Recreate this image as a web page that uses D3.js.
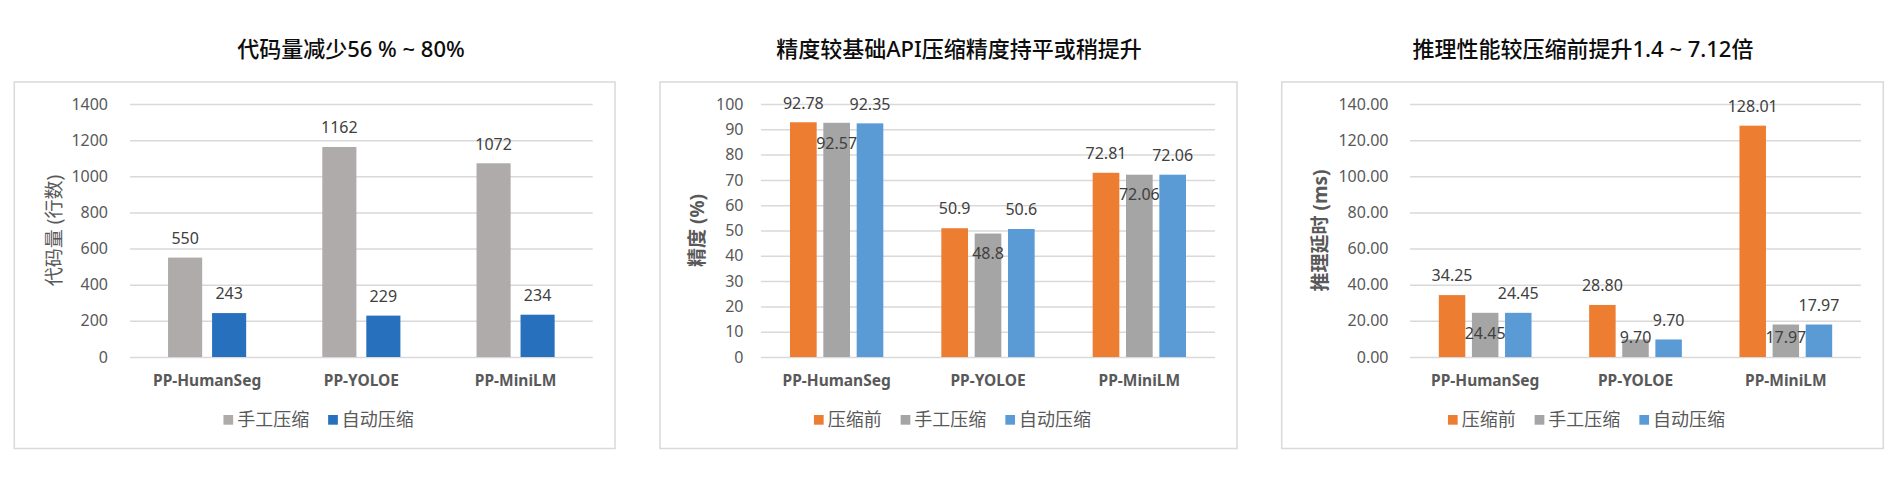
<!DOCTYPE html>
<html>
<head>
<meta charset="utf-8">
<script src="https://cdn.jsdelivr.net/npm/d3@7"></script>
<style>
  html, body { margin: 0; padding: 0; background: #fff; }
  svg { display: block; }
  text { font-family: "Noto Sans", "Noto Sans CJK SC", sans-serif; }
</style>
</head>
<body>
<svg id="chart" width="1901" height="477"></svg>
<script>
// ---------------- data ----------------
const categories = ["PP-HumanSeg", "PP-YOLOE", "PP-MiniLM"];

const codeTitle = "代码量减少56 % ~ 80%";
const codeYTitle = "代码量 (行数)";
const codeSeriesNames = ["手工压缩", "自动压缩"];
const codeManual = [550, 1162, 1072];
const codeAuto = [243, 229, 234];
const codeTicks = [0, 200, 400, 600, 800, 1000, 1200, 1400];

const accTitle = "精度较基础API压缩精度持平或稍提升";
const accYTitle = "精度 (%)";
const accSeriesNames = ["压缩前", "手工压缩", "自动压缩"];
const accBefore = [92.78, 50.9, 72.81];
const accManual = [92.57, 48.8, 72.06];
const accAuto = [92.35, 50.6, 72.06];
const accTicks = [0, 10, 20, 30, 40, 50, 60, 70, 80, 90, 100];

const latTitle = "推理性能较压缩前提升1.4 ~ 7.12倍";
const latYTitle = "推理延时 (ms)";
const latSeriesNames = ["压缩前", "手工压缩", "自动压缩"];
const latBefore = [34.25, 28.80, 128.01];
const latManual = [24.45, 9.70, 17.97];
const latAuto = [24.45, 9.70, 17.97];
const latTicks = [0, 20, 40, 60, 80, 100, 120, 140];

// ---------------- styles / layout ----------------
const COLORS2 = ["#AFABAB", "#2770BE"];
const COLORS3 = ["#ED7D31", "#A5A5A5", "#5B9BD5"];

const panels = [
  {
    title: codeTitle, yTitle: codeYTitle, names: codeSeriesNames,
    series: [codeManual, codeAuto], ticks: codeTicks, colors: COLORS2,
    tickFmt: d3.format("d"), valFmt: d3.format("d"),
    box: [14.3, 82, 615, 448.5], plot: [130, 104, 592.7, 357],
    titleX: 351, tickGap: 22, yTitleX: 54, yTitleBold: false,
    padInner: 0.225, padOuter: 0.865, insideSeries: -1
  },
  {
    title: accTitle, yTitle: accYTitle, names: accSeriesNames,
    series: [accBefore, accManual, accAuto], ticks: accTicks, colors: COLORS3,
    tickFmt: d3.format("d"), valFmt: v => String(v),
    box: [660, 82, 1237, 448.5], plot: [761, 104, 1215, 357],
    titleX: 959, tickGap: 17.5, yTitleX: 697.5, yTitleBold: true,
    padInner: 0.2, padOuter: 0.87, insideSeries: 1
  },
  {
    title: latTitle, yTitle: latYTitle, names: latSeriesNames,
    series: [latBefore, latManual, latAuto], ticks: latTicks, colors: COLORS3,
    tickFmt: d3.format(".2f"), valFmt: d3.format(".2f"),
    box: [1281.7, 82, 1883.3, 448.5], plot: [1410, 104, 1861, 357],
    titleX: 1583, tickGap: 21.5, yTitleX: 1320.5, yTitleBold: true,
    padInner: 0.2, padOuter: 0.87, insideSeries: 1
  }
];

const svg = d3.select("#chart");
svg.append("rect").attr("width", 1901).attr("height", 477).attr("fill", "#fff");

panels.forEach(p => {
  const [bx0, by0, bx1, by1] = p.box;
  const [px0, py0, px1, py1] = p.plot;
  const g = svg.append("g");

  // border
  g.append("rect")
    .attr("x", bx0).attr("y", by0)
    .attr("width", bx1 - bx0).attr("height", by1 - by0)
    .attr("fill", "#fff").attr("stroke", "#d9d9d9").attr("stroke-width", 1.5);

  // title
  g.append("text")
    .attr("x", p.titleX).attr("y", 49).attr("dy", "0.36em")
    .attr("text-anchor", "middle")
    .attr("font-size", 22).attr("font-weight", 500).attr("fill", "#0d0d0d")
    .text(p.title);

  // scales
  const y = d3.scaleLinear()
    .domain([p.ticks[0], p.ticks[p.ticks.length - 1]])
    .range([py1, py0]);
  const x0 = d3.scaleBand().domain(categories).range([px0, px1]).padding(0);
  const seriesIdx = p.series.map((_, i) => i);
  const x1 = d3.scaleBand().domain(seriesIdx)
    .range([0, x0.bandwidth()])
    .paddingInner(p.padInner).paddingOuter(p.padOuter);

  // y axis with gridlines
  const yAxis = d3.axisLeft(y)
    .tickValues(p.ticks)
    .tickFormat(p.tickFmt)
    .tickSizeInner(-(px1 - px0))
    .tickSizeOuter(0)
    .tickPadding(p.tickGap);
  const ya = g.append("g").attr("transform", `translate(${px0},0)`).call(yAxis);
  ya.select(".domain").remove();
  ya.selectAll(".tick line").attr("stroke", "#d9d9d9").attr("stroke-width", 1.5);
  ya.selectAll(".tick text")
    .attr("font-size", 16).attr("fill", "#595959")
    .attr("font-family", "'Noto Sans', sans-serif");

  // y axis title
  g.append("text")
    .attr("transform", `translate(${p.yTitleX},${(py0 + py1) / 2}) rotate(-90)`)
    .attr("text-anchor", "middle").attr("dy", "0.36em")
    .attr("font-size", 19)
    .attr("font-weight", p.yTitleBold ? "bold" : "normal")
    .attr("fill", "#595959")
    .text(p.yTitle);

  // bars
  const bars = [];
  p.series.forEach((vals, si) => {
    vals.forEach((v, ci) => {
      bars.push({ si, ci, v });
    });
  });
  g.append("g").selectAll("rect").data(bars).join("rect")
    .attr("x", d => x0(categories[d.ci]) + x1(d.si))
    .attr("width", x1.bandwidth())
    .attr("y", d => y(d.v))
    .attr("height", d => y(0) - y(d.v))
    .attr("fill", d => p.colors[d.si]);

  // value labels
  g.append("g").selectAll("text").data(bars).join("text")
    .attr("x", d => x0(categories[d.ci]) + x1(d.si) + x1.bandwidth() / 2)
    .attr("y", d => {
      if (d.si === p.insideSeries) {
        return Math.min(y(d.v) + 20, y(0) - 19.3);
      }
      return y(d.v) - 19.5;
    })
    .attr("dy", "0.36em")
    .attr("text-anchor", "middle")
    .attr("font-size", 16).attr("fill", "#404040")
    .text(d => p.valFmt(d.v));

  // category axis
  const xAxis = d3.axisBottom(x0).tickSize(0).tickPadding(0);
  const xa = g.append("g").attr("transform", `translate(0,${py1})`).call(xAxis);
  xa.select(".domain").remove();
  xa.selectAll(".tick text")
    .attr("y", 380 - py1).attr("dy", "0.36em")
    .attr("font-size", 15.5).attr("font-weight", "bold")
    .attr("fill", "#595959")
    .attr("font-family", "'Noto Sans', sans-serif");

  // legend
  const leg = g.append("g");
  let cx = 0;
  p.names.forEach((name, i) => {
    const it = leg.append("g");
    it.append("rect").attr("x", 0).attr("y", 415).attr("width", 9.7).attr("height", 9.7)
      .attr("fill", p.colors[i]);
    const t = it.append("text").attr("x", 13.7).attr("y", 420).attr("dy", "0.36em")
      .attr("font-size", 18).attr("fill", "#595959").text(name);
    const w = 13.7 + t.node().getComputedTextLength();
    it.attr("transform", `translate(${cx},0)`);
    cx += w + 19;
  });
  const total = cx - 19;
  const center = (bx0 + bx1) / 2 + 4;
  leg.attr("transform", `translate(${center - total / 2},0)`);
});
</script>
</body>
</html>
